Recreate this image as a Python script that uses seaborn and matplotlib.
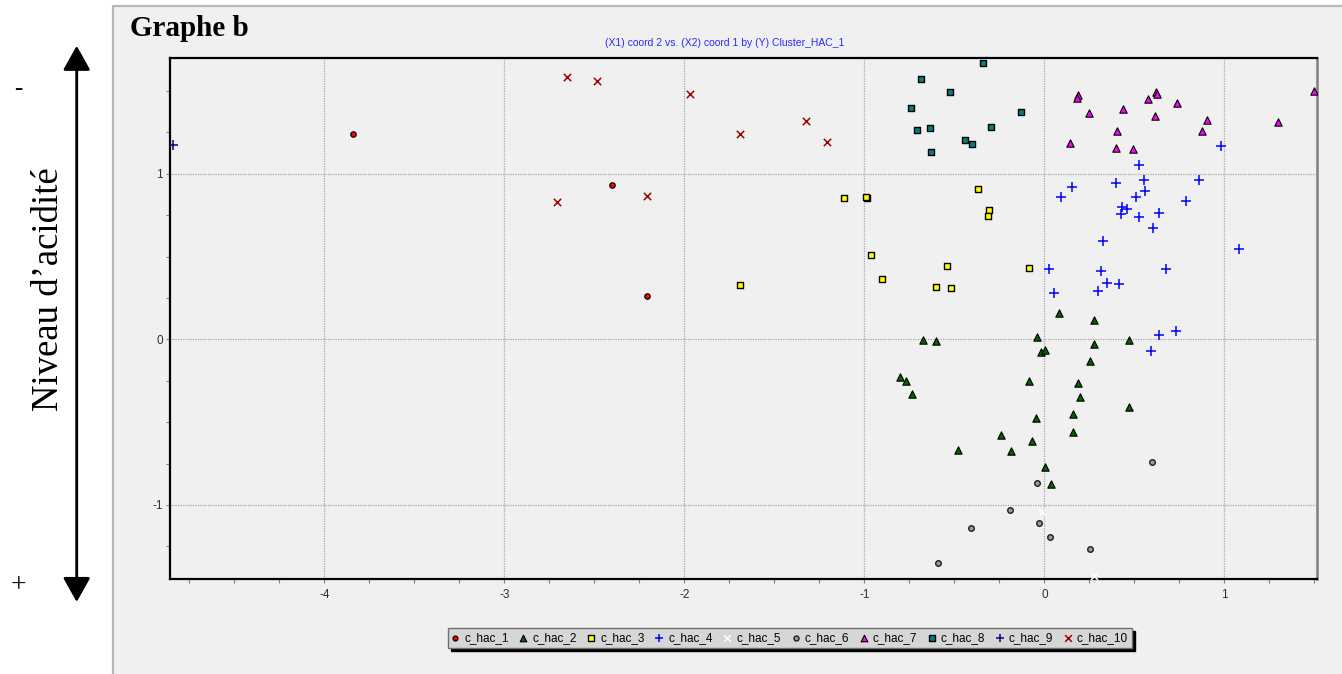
import numpy as np
import pandas as pd
import matplotlib
matplotlib.use("Agg")
import matplotlib.pyplot as plt
import seaborn as sns
from matplotlib.patches import Rectangle, FancyArrowPatch
from matplotlib.ticker import MultipleLocator

# ---------------- data ----------------
clusters = ["c_hac_1", "c_hac_2", "c_hac_3", "c_hac_4", "c_hac_5",
            "c_hac_6", "c_hac_7", "c_hac_8", "c_hac_9", "c_hac_10"]

c1_x = [-3.84, -2.40, -2.21]
c1_y = [1.238, 0.932, 0.26]

c2_x = [0.083, 0.278, -0.673, -0.602, -0.041, 0.278, 0.472, -0.017, 0.006, 0.254,
        -0.802, -0.767, -0.737, -0.087, 0.189, 0.200, 0.472, -0.048, 0.159, 0.159,
        -0.243, -0.071, -0.478, -0.183, 0.006, 0.035]
c2_y = [0.161, 0.115, -0.002, -0.010, 0.016, -0.026, -0.002, -0.075, -0.067, -0.129,
        -0.230, -0.254, -0.332, -0.254, -0.262, -0.349, -0.411, -0.473, -0.449, -0.558,
        -0.576, -0.614, -0.668, -0.676, -0.769, -0.872]

c3_x = [-1.693, -1.114, -0.983, -0.990, -0.965, -0.902, -0.543, -0.602, -0.519,
        -0.371, -0.306, -0.313, -0.087]
c3_y = [0.326, 0.851, 0.855, 0.862, 0.507, 0.366, 0.445, 0.318, 0.312,
        0.906, 0.781, 0.743, 0.429]

c4_x = [0.982, 0.526, 0.552, 0.398, 0.858, 0.156, 0.091, 0.557, 0.509, 0.785,
        0.432, 0.457, 0.426, 0.526, 0.639, 0.604, 0.326, 1.082, 0.026, 0.315,
        0.674, 0.350, 0.415, 0.056, 0.298, 0.639, 0.734, 0.594]
c4_y = [1.169, 1.051, 0.960, 0.942, 0.960, 0.920, 0.857, 0.896, 0.857, 0.833,
        0.801, 0.785, 0.757, 0.740, 0.763, 0.670, 0.592, 0.543, 0.426, 0.412,
        0.426, 0.340, 0.334, 0.278, 0.293, 0.028, 0.052, -0.070]

c5_x = [-0.015, 0.278]
c5_y = [-1.043, -1.427]

c6_x = [0.598, -0.039, -0.191, -0.032, -0.410, 0.033, 0.256, -0.593]
c6_y = [-0.741, -0.868, -1.031, -1.107, -1.140, -1.196, -1.266, -1.353]

c7_x = [0.189, 0.180, 0.248, 0.437, 0.578, 0.619, 0.624, 0.737, 0.613, 0.902,
        0.873, 0.402, 0.143, 0.396, 0.491, 1.299, 1.499]
c7_y = [1.477, 1.459, 1.367, 1.391, 1.451, 1.493, 1.483, 1.429, 1.350, 1.326,
        1.256, 1.258, 1.185, 1.155, 1.149, 1.312, 1.499]

c8_x = [-0.341, -0.684, -0.524, -0.743, -0.130, -0.708, -0.637, -0.294, -0.441,
        -0.400, -0.632]
c8_y = [1.670, 1.572, 1.493, 1.399, 1.375, 1.266, 1.274, 1.282, 1.204,
        1.179, 1.133]

c9_x = [-4.84]
c9_y = [1.175]

c10_x = [-2.655, -2.484, -1.971, -1.693, -1.323, -1.206, -2.709, -2.209]
c10_y = [1.582, 1.558, 1.481, 1.238, 1.316, 1.191, 0.831, 0.863]

x_ticks = [-4, -3, -2, -1, 0, 1]
y_ticks = [-1, 0, 1]

title_text = "Graphe b"
subtitle_text = "(X1) coord 2 vs. (X2) coord 1 by (Y) Cluster_HAC_1"
side_label = "Niveau d\u2019acidit\u00e9"

# ---------------- build table ----------------
xs = [c1_x, c2_x, c3_x, c4_x, c5_x, c6_x, c7_x, c8_x, c9_x, c10_x]
ys = [c1_y, c2_y, c3_y, c4_y, c5_y, c6_y, c7_y, c8_y, c9_y, c10_y]
df = pd.concat([pd.DataFrame({"cluster": c, "coord1": x, "coord2": y})
                for c, x, y in zip(clusters, xs, ys)], ignore_index=True)

styles = {
    "c_hac_1": dict(marker="o", color="#ff0000", edgecolor="black", s=15, linewidth=0.9),
    "c_hac_2": dict(marker="^", color="#006400", edgecolor="black", s=28, linewidth=0.8),
    "c_hac_3": dict(marker="s", color="#ffff00", edgecolor="black", s=22, linewidth=1.0),
    "c_hac_4": dict(marker="+", color="#0000ff", s=42, linewidth=1.1),
    "c_hac_5": dict(marker="x", color="#ffffff", s=26, linewidth=1.1),
    "c_hac_6": dict(marker="o", color="#9a9a9a", edgecolor="#202020", s=16, linewidth=1.0),
    "c_hac_7": dict(marker="^", color="#ff00ff", edgecolor="black", s=28, linewidth=0.8),
    "c_hac_8": dict(marker="s", color="#008080", edgecolor="black", s=22, linewidth=1.0),
    "c_hac_9": dict(marker="+", color="#000080", s=42, linewidth=1.1),
    "c_hac_10": dict(marker="x", color="#a00000", s=28, linewidth=1.1),
}

# ---------------- figure ----------------
sns.set_style("white")
plt.rcParams["font.family"] = ["Liberation Sans", "DejaVu Sans"]
plt.rcParams["axes.unicode_minus"] = False
plt.rcParams["text.color"] = "black"

W, H = 1342, 674
fig = plt.figure(figsize=(W / 100, H / 100), dpi=100)
fig.patch.set_facecolor("white")

def fx(px):
    return px / W

def fy(py):
    return 1 - py / H

# grey panel (behind everything)
panel = Rectangle((fx(113), -0.05), 1.1, fy(6) + 0.05, transform=fig.transFigure,
                  facecolor="#f0f0f0", edgecolor="#b8b8b8", linewidth=1.6, zorder=-10)
fig.patches.append(panel)

ax = fig.add_axes([fx(170), fy(579.3), fx(1316.7) - fx(170), fy(58.3) - fy(579.3)])
ax.set_zorder(1)
ax.set_facecolor("#f0f0f0")

for c in clusters:
    sns.scatterplot(data=df[df["cluster"] == c], x="coord1", y="coord2",
                    ax=ax, label=c, zorder=3, **styles[c])

ax.set_xlim(-4.858, 1.513)
ax.set_ylim(-1.449, 1.697)
ax.set_xticks(x_ticks)
ax.set_yticks(y_ticks)
ax.set_xticklabels([str(t) for t in x_ticks])
ax.set_yticklabels([str(t) for t in y_ticks])
ax.xaxis.set_minor_locator(MultipleLocator(0.25))
ax.yaxis.set_minor_locator(MultipleLocator(0.25))
ax.tick_params(which="both", direction="out", length=3, width=0.8, color="#808080",
               bottom=True, left=True)
ax.tick_params(axis="x", which="major", labelsize=8.5, labelcolor="#303030", pad=4)
ax.tick_params(axis="y", which="major", labelsize=8.5, labelcolor="#303030", pad=2)
ax.set_xlabel("")
ax.set_ylabel("")
ax.grid(True, which="major", color="#a8a8a8", linestyle=(0, (1, 1)), linewidth=0.9)
ax.set_axisbelow(True)

for side in ["top", "left", "bottom"]:
    ax.spines[side].set_color("black")
    ax.spines[side].set_linewidth(1.6)
ax.spines["right"].set_color("#808080")
ax.spines["right"].set_linewidth(1.8)

leg_old = ax.get_legend()
if leg_old is not None:
    leg_old.remove()

handles, labels = ax.get_legend_handles_labels()
leg = fig.legend(handles, labels, loc="center", bbox_to_anchor=(fx(790), fy(638)),
                 ncol=10, fontsize=8.5, frameon=True, fancybox=False,
                 shadow={"color": "black", "alpha": 1.0},
                 handlelength=0.5, handletextpad=0.5, columnspacing=1.0,
                 borderpad=0.35, markerscale=0.9, borderaxespad=0,
                 labelcolor="black")
leg.get_frame().set_facecolor("#d6d6d6")
leg.get_frame().set_edgecolor("#707070")
leg.get_frame().set_linewidth(1.0)
leg.get_frame().set_alpha(1.0)

# titles
fig.text(fx(129.5), fy(35.5), title_text, fontsize=21, fontweight="bold",
         family=["Liberation Serif", "DejaVu Serif"], ha="left", va="baseline",
         color="black")
fig.text(fx(725), fy(43), subtitle_text, fontsize=7.5, color="#2a2aff",
         ha="center", va="center")

# left annotation
fig.text(fx(58), fy(289.3), side_label, rotation=90, rotation_mode="anchor",
         fontsize=26.5, family=["Liberation Serif", "DejaVu Serif"],
         ha="center", va="baseline", color="black")
arrow = FancyArrowPatch((fx(76.7), fy(602)), (fx(76.7), fy(45.8)),
                        transform=fig.transFigure,
                        arrowstyle="<|-|>,head_length=0.75,head_width=0.42",
                        mutation_scale=20, color="black", linewidth=2,
                        shrinkA=0, shrinkB=0)
fig.patches.append(arrow)
fig.text(fx(18), fy(89), "-", fontsize=18, family=["Liberation Serif", "DejaVu Serif"],
         ha="center", va="center", color="black")
fig.text(fx(18), fy(586), "+", fontsize=20, family=["Liberation Serif", "DejaVu Serif"],
         ha="center", va="center", color="black")

fig.savefig("out.png", dpi=100, facecolor=fig.get_facecolor())
